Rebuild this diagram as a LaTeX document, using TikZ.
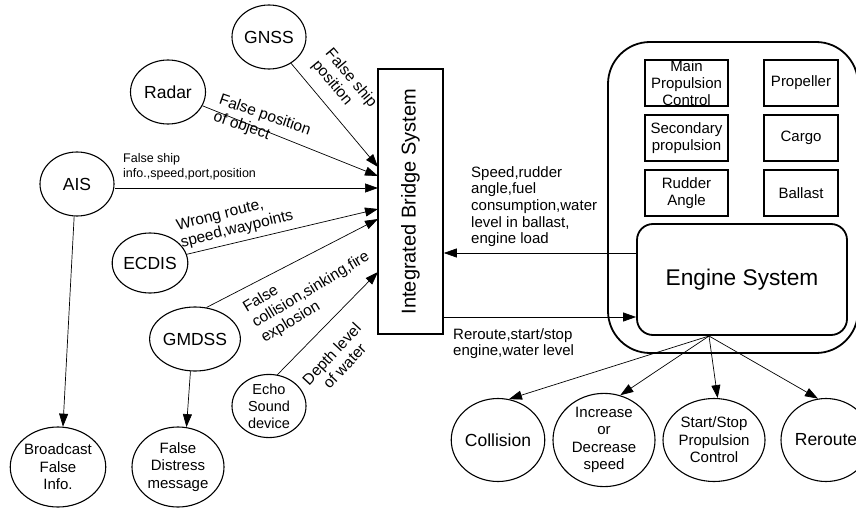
\documentclass[tikz,border=0pt]{standalone}
\usepackage{fontspec}
\setmainfont{Liberation Sans}
\usetikzlibrary{shapes.geometric,arrows.meta}
\begin{document}
\begin{tikzpicture}[x=1pt,y=-1pt,
  ell/.style={draw,ellipse,line width=1.1pt,inner sep=0pt,align=center},
  big/.style={font=\fontsize{17.5}{20}\selectfont},
  med/.style={font=\fontsize{15}{17.5}\selectfont},
  lab/.style={font=\fontsize{15.5}{17.5}\selectfont,align=left,inner sep=0pt},
  flab/.style={font=\fontsize{15}{16.7}\selectfont,align=left,inner sep=0pt},
  arr/.style={-{Triangle[length=13pt,width=9pt]},line width=0.7pt},
  ibox/.style={draw,line width=1.1pt,minimum height=46pt,inner sep=0pt},
  itext/.style={font=\fontsize{15}{16.7}\selectfont,align=center,inner sep=0pt}
]
\useasboundingbox (0,0) rectangle (856,508);
\clip (0,0) rectangle (856,508);

% sensors
\node[ell,big,minimum width=74pt,minimum height=64pt] (gnss) at (269,37) {GNSS};
\node[ell,big,minimum width=75pt,minimum height=64pt] (radar) at (168,92) {Radar};
\node[ell,big,minimum width=74pt,minimum height=64pt] (ais) at (77,184) {AIS};
\node[ell,big,minimum width=74pt,minimum height=60pt] (ecdis) at (150,263) {ECDIS};
\node[ell,big,minimum width=72pt,minimum height=64pt] (gmdss) at (195,339) {GMDSS};
\node[ell,font=\fontsize{14.5}{17}\selectfont,minimum width=74pt,minimum height=58pt] (echo) at (269,406) {Echo\\Sound\\device};
\node[ell,med,minimum width=93pt,minimum height=80pt] (bfi) at (58,467) {Broadcast\\False\\Info.};
\node[ell,med,minimum width=92pt,minimum height=80pt] (fdm) at (178,467) {False\\Distress\\message};

% integrated bridge system
\node[draw,line width=1.6pt,minimum width=65pt,minimum height=265pt,inner sep=0pt] (ibs) at (410.5,201.5) {};
\node[rotate=90,font=\fontsize{20}{24}\selectfont,inner sep=0pt] (ibst) at (ibs) {Integrated Bridge System};

\coordinate (iG) at (378,167);
\coordinate (iR) at (378,176);
\coordinate (iA) at (378,188);
\coordinate (iE) at (378,209);
\coordinate (iM) at (378,219);
\coordinate (iS) at (378,272);

\draw[arr] (gnss) -- (iG);
\draw[arr] (radar) -- (iR);
\draw[arr] (ais.east |- iA) -- (iA);
\draw[arr] (ecdis) -- (iE);
\draw[arr] (gmdss.70) -- (iM);
\draw[arr] (echo.75) -- (iS);
\draw[arr] (ais.265) -- (bfi.83);
\draw[arr] (gmdss.262) -- (fdm.78);

% labels on sensor arrows
\node[lab,rotate=-50] (lgn) at (344,84) {False ship\\position};
\node[lab,rotate=-19] (lrd) at (262,124) {False position\\of object};
\node[font=\fontsize{12.5}{15}\selectfont,align=left,inner sep=0pt,anchor=north west] (lai) at (123,153) {False ship\\info.,speed,port,position};
\node[lab,rotate=14] (lec) at (235,221) {Wrong route,\\speed,waypoints};
\node[lab,rotate=31] (lgm) at (311,290) {False\\collision,sinking,fire\\explosion};
\node[lab,rotate=47,align=center] (lde) at (338,360) {Depth level\\of water};

% engine container
\node[draw,line width=1.8pt,rounded corners=42pt,minimum width=250pt,minimum height=311pt,inner sep=0pt] (cont) at (733,197.5) {};

\node[ibox,minimum width=83pt] (mpc) at (686.5,83) {};
\node[itext] (mpct) at (mpc) {Main\\Propulsion\\Control};
\node[ibox,minimum width=74pt] (prop) at (801,83) {};
\node[itext] (propt) at (prop) {Propeller};
\node[ibox,minimum width=83pt] (sec) at (686.5,138) {};
\node[itext] (sect) at (sec) {Secondary\\propulsion};
\node[ibox,minimum width=74pt] (cargo) at (801,138) {};
\node[itext] (cargot) at (cargo) {Cargo};
\node[ibox,minimum width=83pt] (rud) at (686.5,193) {};
\node[itext] (rudt) at (rud) {Rudder\\Angle};
\node[ibox,minimum width=74pt] (ball) at (801,193) {};
\node[itext] (ballt) at (ball) {Ballast};

\node[draw,line width=1.8pt,rounded corners=16pt,minimum width=210pt,minimum height=111pt,inner sep=0pt,font=\fontsize{22.7}{26}\selectfont] (eng) at (742,279.5) {Engine System};

\coordinate (ya) at (0,253);
\coordinate (yb) at (0,317);
\draw[arr] (eng.west |- ya) -- (ibs.east |- ya);
\draw[arr] (ibs.east |- yb) -- (eng.west |- yb);

\node[flab,anchor=north west] (lsp) at (471,166) {Speed,rudder\\angle,fuel\\consumption,water\\level in ballast,\\engine load};
\node[flab,anchor=north west] (lrr) at (453,328) {Reroute,start/stop\\engine,water level};

% outcomes
\node[ell,big,minimum width=92pt,minimum height=83pt] (col) at (498,440) {Collision};
\node[ell,med,minimum width=102pt,minimum height=83pt] (inc) at (604,440) {Increase\\or\\Decrease\\speed};
\node[ell,med,minimum width=102pt,minimum height=83pt] (ss) at (714,440) {Start/Stop\\Propulsion\\Control};
\node[ell,big,minimum width=90pt,minimum height=83pt] (rr) at (826,440) {Reroute};

\coordinate (es) at (709,336);
\draw[arr] (es) -- (col.75);
\draw[arr] (es) -- (inc.70);
\draw[arr] (es) -- (ss.85);
\draw[arr] (es) -- (rr.101);
\end{tikzpicture}
\end{document}
